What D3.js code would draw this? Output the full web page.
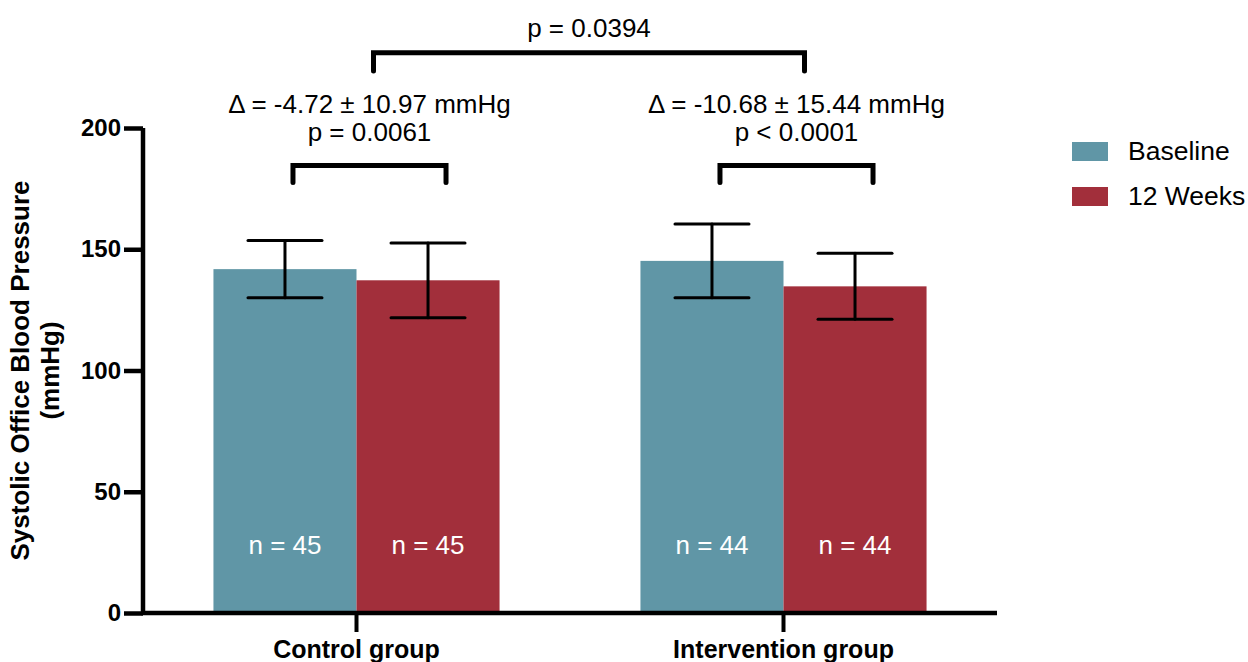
<!DOCTYPE html>
<html>
<head>
<meta charset="utf-8">
<script src="https://cdn.jsdelivr.net/npm/d3@7"></script>
<style>
  body { margin: 0; background: #fff; }
  text { font-family: 'Liberation Sans', Arial, sans-serif; }
</style>
</head>
<body>
<div id="chart"></div>
<script>
// Chart values
var groups = ['Control group', 'Intervention group'];
var timepoints = ['Baseline', '12 Weeks'];
var meanBaseline = [141.8, 145.2];
var mean12Weeks = [137.2, 134.7];
var sdBaseline = [11.8, 15.2];
var sd12Weeks = [15.4, 13.6];
var nPerGroup = [45, 44];
var deltaLabels = ['\u0394 = -4.72 \u00b1 10.97 mmHg', '\u0394 = -10.68 \u00b1 15.44 mmHg'];
var withinP = ['p = 0.0061', 'p < 0.0001'];
var betweenP = 'p = 0.0394';
var yTicks = [0, 50, 100, 150, 200];

var colors = ['#6096a6', '#a22f3b'];

var svgWidth = 1248;
var svgHeight = 662;
var margin = { top: 128, right: 251, bottom: 49, left: 143 };
var width = svgWidth - margin.left - margin.right;
var height = svgHeight - margin.top - margin.bottom;

var svg = d3.select('#chart').append('svg').attr('width', svgWidth).attr('height', svgHeight);
var chartGroup = svg.append('g').attr('transform', `translate(${margin.left}, ${margin.top})`);

// Build rows from the arrays
var rows = [];
groups.forEach(function(g, i) {
	rows.push({ group: g, time: timepoints[0], mean: meanBaseline[i], sd: sdBaseline[i], n: nPerGroup[i] });
	rows.push({ group: g, time: timepoints[1], mean: mean12Weeks[i], sd: sd12Weeks[i], n: nPerGroup[i] });
});

// Scales
var x0 = d3.scaleBand().domain(groups).range([ 0, width ]).paddingInner(0.33).paddingOuter(0.165);
var x1 = d3.scaleBand().domain(timepoints).range([ 0, x0.bandwidth() ]);
var yLinearScale = d3.scaleLinear().domain([ 0, 200 ]).range([ height, 0 ]);
var color = d3.scaleOrdinal().domain(timepoints).range(colors);

function barCenter(d) {
	return x0(d.group) + x1(d.time) + x1.bandwidth() / 2;
}

// Bars
chartGroup
	.selectAll('.bar')
	.data(rows)
	.enter()
	.append('rect')
	.attr('class', 'bar')
	.attr('x', (d) => x0(d.group) + x1(d.time))
	.attr('width', x1.bandwidth())
	.attr('y', (d) => yLinearScale(d.mean))
	.attr('height', (d) => height - yLinearScale(d.mean))
	.attr('fill', (d) => color(d.time));

// Error bars (mean ± SD)
var errGroup = chartGroup.append('g').attr('stroke', '#000').attr('stroke-width', 3).attr('stroke-linecap', 'round');
var capHalf = 37;
rows.forEach(function(d) {
	var cx = barCenter(d);
	var yHi = yLinearScale(d.mean + d.sd);
	var yLo = yLinearScale(d.mean - d.sd);
	errGroup.append('line').attr('x1', cx).attr('x2', cx).attr('y1', yHi).attr('y2', yLo);
	errGroup.append('line').attr('x1', cx - capHalf).attr('x2', cx + capHalf).attr('y1', yHi).attr('y2', yHi);
	errGroup.append('line').attr('x1', cx - capHalf).attr('x2', cx + capHalf).attr('y1', yLo).attr('y2', yLo);
});

// n labels inside bars
chartGroup
	.selectAll('.nLabel')
	.data(rows)
	.enter()
	.append('text')
	.attr('class', 'nLabel')
	.attr('x', barCenter)
	.attr('y', yLinearScale(24.3))
	.attr('text-anchor', 'middle')
	.attr('font-size', '26px')
	.attr('fill', '#fff')
	.text((d) => `n = ${d.n}`);

// Y axis
var leftAxis = d3.axisLeft(yLinearScale).tickValues(yTicks).tickSize(19).tickPadding(3);
var yAxis = chartGroup.append('g').call(leftAxis);
yAxis.select('.domain').remove();
yAxis.selectAll('.tick line').attr('stroke', '#000').attr('stroke-width', 4.5);
yAxis.selectAll('.tick text')
	.attr('font-size', '24px')
	.attr('font-weight', 'bold')
	.attr('fill', '#000')
	.style('font-family', "'Liberation Sans', Arial, sans-serif");
chartGroup.append('line')
	.attr('x1', 0).attr('x2', 0)
	.attr('y1', 0).attr('y2', height + 2)
	.attr('stroke', '#000').attr('stroke-width', 4.5);

// X axis
var bottomAxis = d3.axisBottom(x0).tickSize(19).tickPadding(8);
var xAxis = chartGroup.append('g').attr('transform', `translate(0, ${height})`).call(bottomAxis);
xAxis.select('.domain').remove();
xAxis.selectAll('.tick line').attr('stroke', '#000').attr('stroke-width', 4);
xAxis.selectAll('.tick text')
	.attr('font-size', '25px')
	.attr('font-weight', 'bold')
	.attr('fill', '#000')
	.style('font-family', "'Liberation Sans', Arial, sans-serif");
chartGroup.append('line')
	.attr('x1', -2).attr('x2', width)
	.attr('y1', height).attr('y2', height)
	.attr('stroke', '#000').attr('stroke-width', 4.5);

// Y axis title
var yTitle = svg.append('text')
	.attr('transform', `translate(0, ${margin.top + height / 2}) rotate(-90)`)
	.attr('text-anchor', 'middle')
	.attr('font-size', '26px')
	.attr('font-weight', 'bold')
	.attr('fill', '#000');
yTitle.append('tspan').attr('x', 0).attr('y', 29).text('Systolic Office Blood Pressure');
yTitle.append('tspan').attr('x', 0).attr('y', 59).text('(mmHg)');

// Significance brackets
var bracketGroup = chartGroup.append('g')
	.attr('fill', 'none')
	.attr('stroke', '#000')
	.attr('stroke-width', 5)
	.attr('stroke-linecap', 'round')
	.attr('stroke-linejoin', 'miter');

function bracket(xa, xb, yTop, yBottom) {
	bracketGroup.append('path')
		.attr('d', `M${xa},${yLinearScale(yBottom)}V${yLinearScale(yTop)}H${xb}V${yLinearScale(yBottom)}`);
}

groups.forEach(function(g, i) {
	var xa = x0(g) + x1(timepoints[0]) + x1.bandwidth() / 2 + 8;
	var xb = x0(g) + x1(timepoints[1]) + x1.bandwidth() / 2 + 18;
	bracket(xa, xb, 184.5, 177.5);
	var mid = (xa + xb) / 2;
	chartGroup.append('text')
		.attr('x', mid)
		.attr('y', yLinearScale(206))
		.attr('text-anchor', 'middle')
		.attr('font-size', '26px')
		.attr('fill', '#000')
		.text(deltaLabels[i]);
	chartGroup.append('text')
		.attr('x', mid)
		.attr('y', yLinearScale(194.5))
		.attr('text-anchor', 'middle')
		.attr('font-size', '26px')
		.attr('fill', '#000')
		.text(withinP[i]);
});

var bxa = x0(groups[0]) + x0.bandwidth() / 2 + 17;
var bxb = x0(groups[1]) + x0.bandwidth() / 2 + 21;
bracket(bxa, bxb, 231, 223.5);
chartGroup.append('text')
	.attr('x', (bxa + bxb) / 2)
	.attr('y', yLinearScale(237.5))
	.attr('text-anchor', 'middle')
	.attr('font-size', '26px')
	.attr('fill', '#000')
	.text(betweenP);

// Legend
var legend = svg.append('g').attr('transform', 'translate(1072, 142)');
timepoints.forEach(function(t, i) {
	var row = legend.append('g').attr('transform', `translate(0, ${i * 45})`);
	row.append('rect').attr('width', 36).attr('height', 19).attr('fill', color(t));
	row.append('text')
		.attr('x', 56)
		.attr('y', 18)
		.attr('font-size', '26.5px')
		.attr('fill', '#000')
		.text(t);
});
</script>
</body>
</html>
